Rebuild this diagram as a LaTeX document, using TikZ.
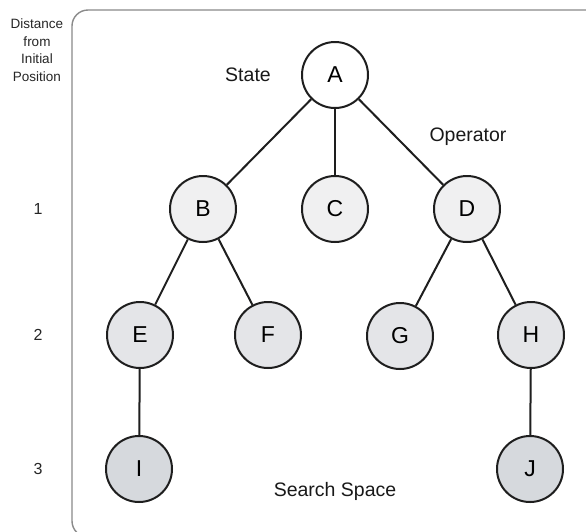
\documentclass[tikz,border=0pt]{standalone}
\usepackage{fontspec}
\setmainfont{Liberation Sans}
\definecolor{lvlA}{HTML}{FFFFFF}
\definecolor{lvlB}{HTML}{F0F0F1}
\definecolor{lvlC}{HTML}{E4E5E8}
\definecolor{lvlD}{HTML}{D6D9DD}
\definecolor{framecol}{HTML}{8A8A8A}
\definecolor{edgecol}{HTML}{1E1E1E}
\begin{document}
\begin{tikzpicture}[x=1pt,y=-1pt,
  statenode/.style={circle,draw=edgecol,line width=2pt,minimum size=66pt,inner sep=0pt,font=\fontsize{23}{23}\selectfont},
  edge/.style={draw=edgecol,line width=2pt},
  levellabel/.style={font=\fontsize{16}{16}\selectfont,text=black!85},
  annot/.style={font=\fontsize{19.5}{19.5}\selectfont,text=black!90},
  header/.style={font=\fontsize{13.5}{17.5}\selectfont,align=center,text=black!85}]
\useasboundingbox (0,0) rectangle (586,531);
\fill[white] (0,0) rectangle (586,531);
\begin{scope}
\clip (0,0) rectangle (586,531);
\draw[framecol,line width=1.4pt,rounded corners=16pt] (610,10) -- (72,10) -- (72,537) -- (610,537);
\end{scope}
% header and level labels
\node[header] (hdr) at (37,50) {Distance\\from\\Initial\\Position};
\node[levellabel] (l1) at (38,209) {1};
\node[levellabel] (l2) at (38,335) {2};
\node[levellabel] (l3) at (38,469) {3};
% nodes
\node[statenode,fill=lvlA] (A) at (335,75) {A};
\node[statenode,fill=lvlB] (B) at (203,209) {B};
\node[statenode,fill=lvlB] (C) at (335,209) {C};
\node[statenode,fill=lvlB] (D) at (467,209) {D};
\node[statenode,fill=lvlC] (E) at (140,335) {E};
\node[statenode,fill=lvlC] (F) at (268,335) {F};
\node[statenode,fill=lvlC] (G) at (400,336) {G};
\node[statenode,fill=lvlC] (H) at (531,335) {H};
\node[statenode,fill=lvlD] (I) at (139,469) {I};
\node[statenode,fill=lvlD] (J) at (530,469) {J};
% edges
\draw[edge] (A) -- (B);
\draw[edge] (A) -- (C);
\draw[edge] (A) -- (D);
\draw[edge] (B) -- (E);
\draw[edge] (B) -- (F);
\draw[edge] (D) -- (G);
\draw[edge] (D) -- (H);
\draw[edge] (E) -- (I);
\draw[edge] (H) -- (J);
% annotations
\node[annot] (state) at (248,75) {State};
\node[annot] (op) at (468,137) {Operator};
\node[annot] (ss) at (335,491) {Search Space};
\end{tikzpicture}
\end{document}
